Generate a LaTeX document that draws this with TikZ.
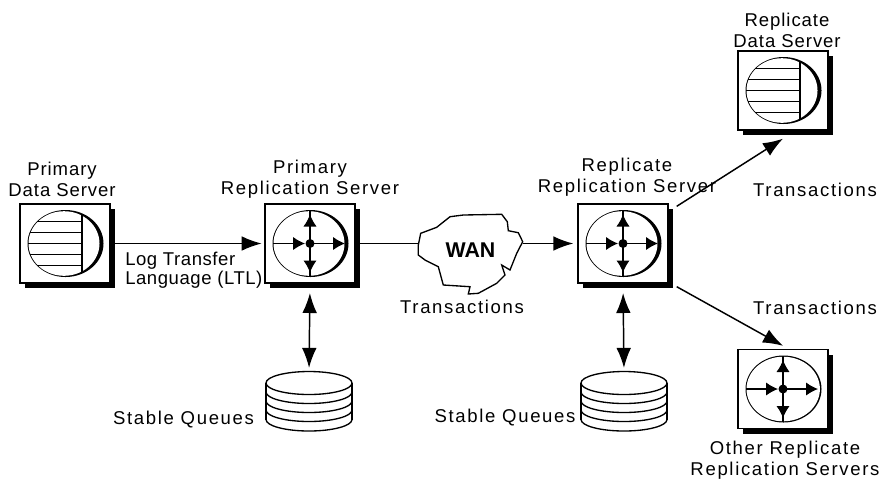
\documentclass[tikz,border=0pt]{standalone}
\usepackage{fontspec}
\setmainfont[LetterSpace=9]{Liberation Sans}
\usetikzlibrary{arrows.meta}
\usetikzlibrary{shadows}

\tikzset{
    serverbox/.style={draw=black, fill=white, line width=1pt, minimum width=67.5pt, minimum height=59.25pt,
        inner sep=0pt, general shadow={fill=black, shadow xshift=4pt, shadow yshift=-4pt}},
    disknode/.style={minimum width=64.5pt, minimum height=44pt, inner sep=0pt},
    lbl/.style={font=\fontsize{13.9}{15.75}\selectfont, align=center, inner sep=0pt},
    link/.style={line width=1.1pt},
    bigtip/.style={-{Latex[length=15pt, width=11pt]}},
    bothtip/.style={{Latex[length=15pt, width=11pt]}-{Latex[length=15pt, width=11pt]}},
    smalltip/.style={-{Latex[length=9pt, width=10pt]}},
}

\begin{document}
\begin{tikzpicture}[x=0.75pt, y=-0.75pt]
        \useasboundingbox (0,0) rectangle (880,480);

        \node[serverbox] (pds) at (65, 243.5) {};
        \node[serverbox] (prs) at (310, 243.5) {};
        \node[serverbox] (rrs) at (623, 243.5) {};
        \node[serverbox] (rds) at (783, 90.5) {};
        \node[serverbox] (oth) at (783, 389) {};
        \node[disknode] (sq1) at (309, 401.5) {};
        \node[disknode] (sq2) at (624, 401.5) {};

        % cloud
        \draw[line width=1pt, fill=white] (418.3,245) -- (420.7,233.3) -- (436.7,227.3) -- (450,216.7)
            -- (463.3,215) -- (501.7,214.3) -- (507.3,221.7) -- (508.3,230.7) -- (518.3,232.7)
            -- (522.7,241.7) -- (516.7,253.3) -- (510,270) -- (501.7,265) -- (505,275) -- (496.7,283.3)
            -- (478.3,293.3) -- (468.3,294) -- (470,286.7) -- (443.3,285) -- (438.3,266.7)
            -- (425,260) -- (418.3,255) -- cycle;
        \node[font=\fontsize{16}{18}\selectfont\bfseries\addfontfeature{LetterSpace=0}, minimum width=78.75pt, inner sep=0pt] (wan) at (470.5, 250) {WAN};

        % round faces
        \foreach \n/\cx/\rx in {pds/-1/35.5, prs/-1/35.5, rrs/-1/35.5, rds/-1/35.5, oth/0.2/36.7} {
            \begin{scope}[shift={(\n)}]
                \fill[black] (0.5,0) ellipse (38 and 33.5);
                \fill[white] (\cx,0) ellipse [x radius=\rx, y radius=32.3];
            \end{scope}
        }
        % data servers
        \foreach \n in {pds,rds} {
            \begin{scope}[shift={(\n)}, line width=1pt]
                \foreach \y/\w in {-22/-28, -11/-35, 0/-37, 11/-35, 22/-28}
                    \draw (\w,\y) -- (17,\y);
                \draw (17,-29.5) -- (17,29.5);
            \end{scope}
        }
        % replication servers
        \foreach \n in {prs,rrs,oth} {
            \begin{scope}[shift={(\n)}, line width=1pt]
                \draw[smalltip] (-37,0) -- (-5,0);
                \draw[smalltip] (0,0) -- (35,0);
                \draw[smalltip] (0,0) -- (0,-29);
                \draw[smalltip] (0,0) -- (0,29);
                \draw (0,-33) -- (0,33);
                \fill[black] (0,0) circle (4.5);
            \end{scope}
        }
        % stable queues
        \foreach \n in {sq1,sq2} {
            \begin{scope}[shift={(\n)}, line width=1pt]
                \draw (0,-18.5) ellipse (43 and 11.5);
                \draw (-43,-18.5) -- (-43,18);
                \draw (43,-18.5) -- (43,18);
                \foreach \y in {-9.5,-0.5,8.5,18}
                    \draw (-43,\y) arc (180:0:43 and 11.5);
            \end{scope}
        }

        \draw[link, bigtip, shorten >=2pt] (pds.east) -- (prs.west);
        \draw[link] (prs.east) -- (prs.east -| wan.west);
        \draw[link, bigtip, shorten >=3pt] (rrs.west -| wan.east) -- (rrs.west);
        \draw[link, bothtip, shorten <=7pt, shorten >=3pt] (prs.south) -- (sq1.north);
        \draw[link, bothtip, shorten <=7pt, shorten >=3pt] (rrs.south) -- (sq2.north);
        \draw[link, bigtip] ([shift={(8,3)}]rrs.north east) -- ([yshift=-6pt]rds.south);
        \draw[link, bigtip] ([shift={(8,3)}]rrs.south east) -- ([yshift=2.25pt]oth.north);

        \node[lbl, font=\fontsize{13.9}{15.75}\selectfont\addfontfeature{LetterSpace=5}] (pdslbl) at (62, 179) {Primary\\Data Server};
        \node[lbl] (prslbl) at (310, 179) {Primary\\Replication Server};
        \node[lbl] (rrslbl) at (627, 177) {Replicate\\Replication Server};
        \node[lbl, font=\fontsize{13.9}{15.75}\selectfont\addfontfeature{LetterSpace=5}] (rdslbl) at (787, 30) {Replicate\\Data Server};
        \node[lbl] (othlbl) at (785, 460) {Other Replicate\\Replication Servers};
        \node[lbl, font=\fontsize{13.9}{12.4}\selectfont\addfontfeature{LetterSpace=3}, align=left, anchor=west] (ltllbl) at (125, 270) {Log Transfer\\Language (LTL)};
        \node[lbl] (tr1) at (462, 307) {Transactions};
        \node[lbl] (tr2) at (815, 190) {Transactions};
        \node[lbl] (tr3) at (815, 308) {Transactions};
        \node[lbl] (sq1lbl) at (183.5, 420) {Stable Queues};
        \node[lbl] (sq2lbl) at (505, 418) {Stable Queues};
\end{tikzpicture}
\end{document}
